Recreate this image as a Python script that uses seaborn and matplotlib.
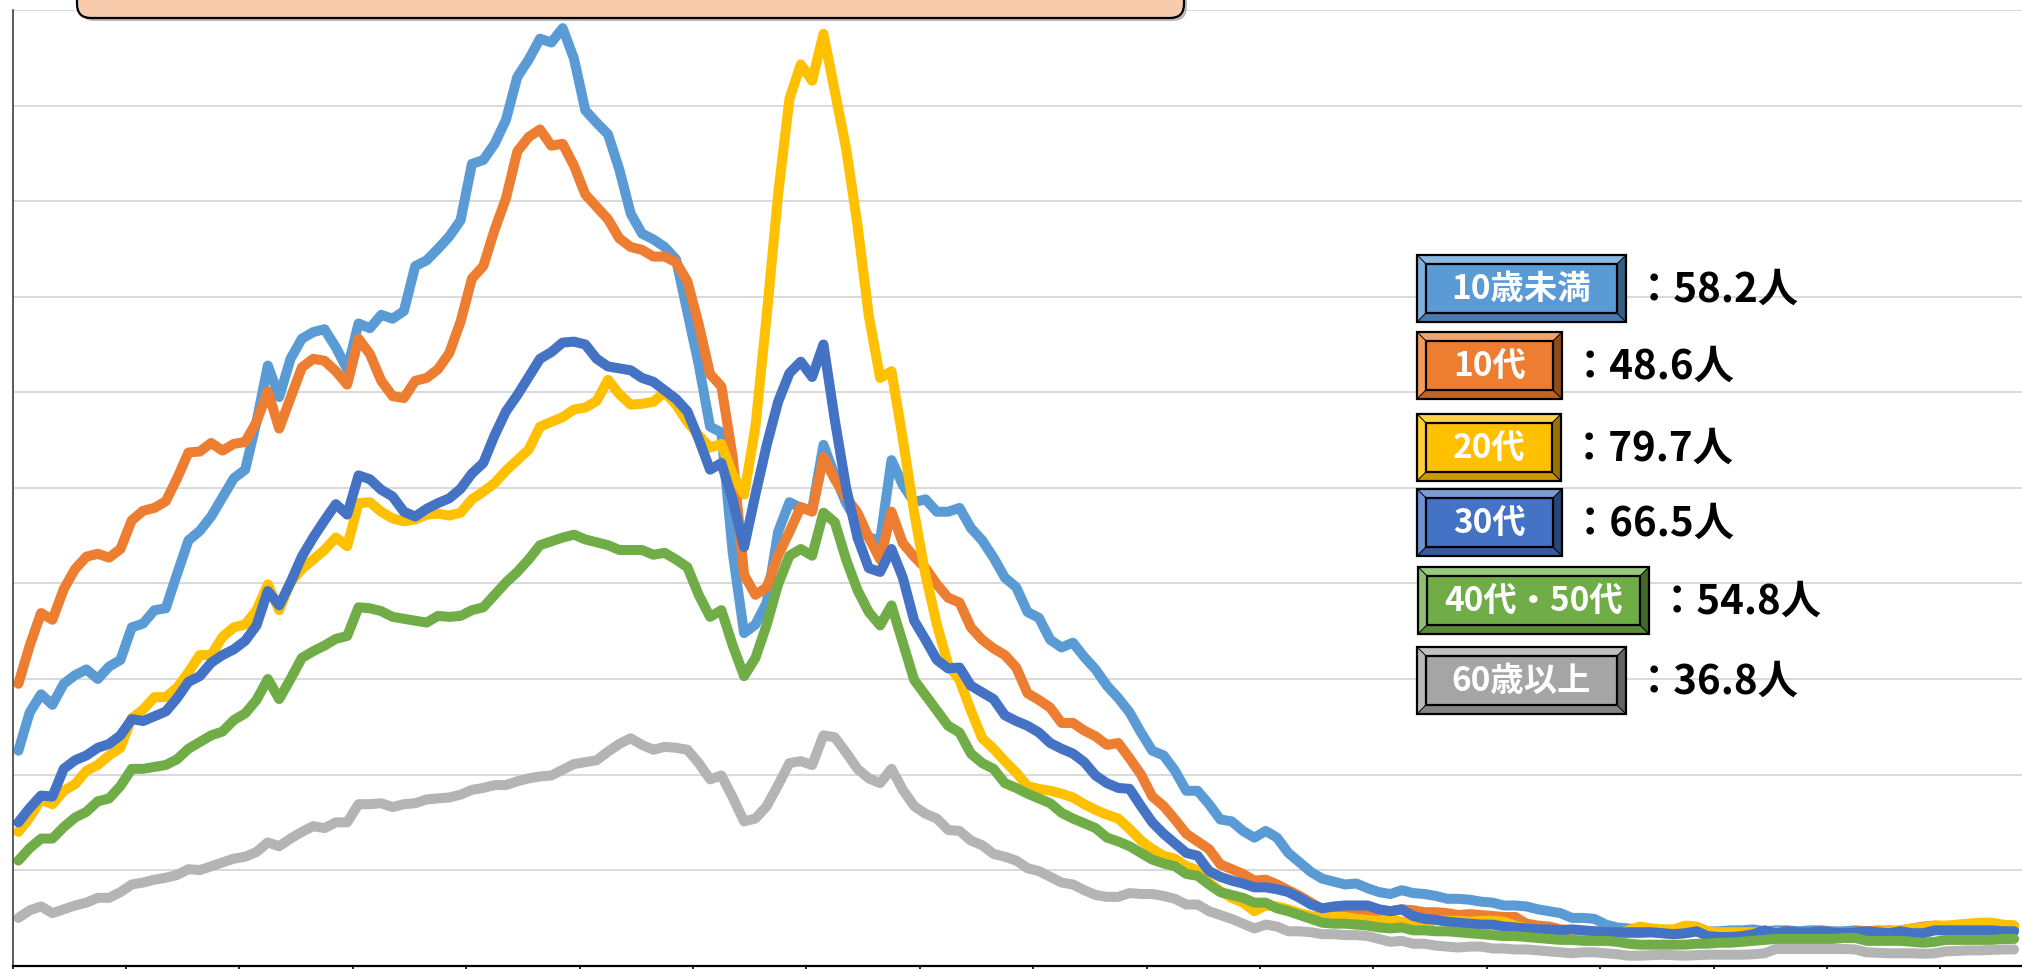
import numpy as np
import pandas as pd
import matplotlib
matplotlib.use("Agg")
import matplotlib.pyplot as plt
import matplotlib.colors as mcolors
from matplotlib.patches import Polygon, Rectangle, FancyBboxPatch
import seaborn as sns

# age groups, the values shown next to the legend boxes, colours
groups = ['10歳未満', '10代', '20代', '30代', '40代・50代', '60歳以上']
latest = ['58.2', '48.6', '79.7', '66.5', '54.8', '36.8']
line_colors = ['#5B9BD5', '#ED7D31', '#FFC000', '#4472C4', '#70AD47', '#B4B4B4']
box_colors = ['#5B9BD5', '#ED7D31', '#FFC000', '#4472C4', '#70AD47', '#A5A5A5']

# one value per period
under10 = [
    22.5, 26.5, 28.4, 27.3, 29.5, 30.4, 31.0, 30.0, 31.3, 32.0,
    35.4, 35.8, 37.2, 37.4, 41.0, 44.5, 45.5, 47.0, 49.0, 51.0,
    51.9, 56.9, 62.8, 59.5, 63.5, 65.6, 66.3, 66.6, 64.7, 62.4,
    67.2, 66.7, 68.1, 67.7, 68.5, 73.2, 73.8, 75.0, 76.3, 78.0,
    83.9, 84.3, 86.0, 88.5, 93.0, 94.8, 97.0, 96.6, 98.1, 94.9,
    89.5, 88.2, 87.0, 83.3, 78.7, 76.6, 76.0, 75.2, 73.9, 68.4,
    62.9, 56.4, 55.8, 43.2, 34.8, 35.7, 38.0, 45.4, 48.5, 47.9,
    47.7, 54.5, 51.3, 48.4, 46.4, 44.8, 44.5, 52.9, 50.3, 48.5,
    48.8, 47.5, 47.5, 47.9, 45.8, 44.5, 42.7, 40.6, 39.6, 37.0,
    36.4, 34.1, 33.3, 33.8, 32.3, 31.0, 29.3, 28.0, 26.5, 24.4,
    22.5, 22.0, 20.4, 18.3, 18.3, 16.9, 15.3, 15.1, 14.1, 13.4,
    14.1, 13.4, 11.8, 10.8, 9.8, 9.1, 8.8, 8.5, 8.6, 8.1,
    7.7, 7.5, 7.9, 7.6, 7.5, 7.3, 7.0, 7.0, 6.9, 6.7,
    6.6, 6.3, 6.3, 6.2, 5.9, 5.7, 5.5, 5.0, 5.0, 4.9,
    4.3, 4.0, 3.9, 3.8, 3.8, 3.7, 3.7, 3.8, 3.6, 3.6,
    3.6, 3.7, 3.7, 3.8, 3.6, 3.7, 3.7, 3.6, 3.7, 3.7,
    3.6, 3.6, 3.7, 3.6, 3.6, 3.7, 3.6, 3.6, 3.7, 3.8,
    3.8, 3.8, 3.8, 3.8, 3.8, 3.8, 3.8,
]
teens = [
    29.5, 33.5, 36.9, 36.2, 39.4, 41.5, 42.8, 43.1, 42.7, 43.6,
    46.6, 47.6, 47.9, 48.6, 51.0, 53.7, 53.8, 54.7, 53.9, 54.6,
    54.8, 56.9, 60.1, 56.2, 59.4, 62.6, 63.5, 63.3, 62.2, 60.8,
    65.6, 64.0, 61.2, 59.6, 59.4, 61.2, 61.5, 62.4, 64.1, 67.4,
    71.9, 73.2, 77.0, 80.3, 85.2, 86.7, 87.5, 85.8, 86.0, 83.7,
    80.7, 79.4, 78.1, 76.1, 75.2, 74.9, 74.2, 74.2, 73.6, 71.6,
    67.1, 61.9, 60.6, 53.2, 40.9, 38.8, 39.6, 42.9, 45.4, 48.0,
    47.5, 53.2, 50.9, 49.0, 47.4, 44.8, 42.5, 47.5, 44.2, 42.8,
    41.6, 39.9, 38.5, 38.0, 35.4, 34.1, 33.2, 32.5, 31.2, 28.5,
    27.8, 27.0, 25.4, 25.4, 24.6, 24.0, 23.1, 23.3, 21.7, 20.0,
    17.7, 16.7, 15.3, 13.8, 13.0, 12.2, 10.6, 10.1, 9.6, 8.9,
    9.0, 8.5, 7.9, 7.3, 6.6, 5.9, 5.7, 5.7, 5.6, 5.6,
    5.6, 5.7, 5.9, 5.8, 5.6, 5.6, 5.5, 5.3, 5.4, 5.3,
    5.2, 5.1, 5.1, 4.4, 4.2, 4.1, 3.8, 3.7, 3.6, 3.6,
    3.5, 3.4, 3.4, 3.4, 3.5, 3.4, 3.3, 3.4, 3.6, 3.3,
    3.2, 3.1, 3.2, 3.4, 3.6, 3.5, 3.6, 3.5, 3.5, 3.6,
    3.5, 3.4, 3.6, 3.6, 3.7, 3.6, 3.7, 3.9, 4.1, 4.2,
    4.1, 4.1, 4.2, 4.2, 4.2, 4.2, 4.2,
]
twenties = [
    14.0, 15.5, 17.4, 16.9, 18.3, 19.0, 20.4, 21.0, 22.0, 22.8,
    25.9, 26.8, 28.1, 28.1, 29.1, 30.7, 32.5, 32.5, 34.4, 35.4,
    35.7, 37.2, 39.9, 37.2, 40.1, 41.5, 42.5, 43.5, 44.8, 43.9,
    48.4, 48.5, 47.5, 46.8, 46.5, 46.7, 47.2, 47.3, 47.1, 47.4,
    48.8, 49.6, 50.5, 51.8, 52.9, 54.0, 56.4, 56.9, 57.4, 58.2,
    58.4, 59.1, 61.3, 59.8, 58.7, 58.8, 59.0, 60.0, 58.7, 56.9,
    55.5, 54.2, 54.6, 51.4, 49.3, 56.4, 68.1, 80.7, 90.7, 94.3,
    92.6, 97.5, 91.5, 85.5, 77.5, 68.0, 61.5, 62.2, 55.1, 47.4,
    40.9, 35.7, 31.5, 29.9, 26.7, 23.8, 22.7, 21.4, 20.2, 18.8,
    18.5, 18.3, 18.0, 17.6, 16.9, 16.3, 15.8, 15.4, 14.3, 13.1,
    12.2, 11.5, 11.2, 10.4, 10.0, 8.7, 7.8, 7.1, 6.6, 5.7,
    6.3, 6.2, 5.9, 5.5, 5.2, 5.1, 5.1, 5.1, 4.9, 4.8,
    4.7, 4.9, 4.6, 4.4, 4.2, 4.8, 4.7, 4.7, 4.6, 4.7,
    4.7, 4.6, 4.2, 3.9, 3.7, 3.6, 3.3, 3.1, 3.0, 3.0,
    3.1, 3.3, 3.7, 4.1, 3.9, 3.8, 3.8, 4.2, 4.1, 3.6,
    3.5, 3.5, 3.5, 3.5, 3.4, 3.5, 3.5, 3.5, 3.5, 3.5,
    3.5, 3.4, 3.5, 3.5, 3.6, 3.6, 3.7, 3.9, 4.0, 4.2,
    4.2, 4.3, 4.4, 4.5, 4.5, 4.3, 4.2,
]
thirties = [
    15.0, 16.5, 17.8, 17.7, 20.6, 21.5, 22.0, 22.8, 23.2, 24.1,
    25.8, 25.6, 26.1, 26.6, 28.0, 29.7, 30.3, 31.7, 32.5, 33.1,
    34.0, 35.6, 39.2, 37.7, 40.1, 42.8, 44.8, 46.6, 48.3, 47.2,
    51.3, 50.9, 49.8, 49.1, 47.5, 47.0, 47.8, 48.4, 48.9, 49.9,
    51.5, 52.6, 55.5, 58.0, 59.7, 61.6, 63.5, 64.2, 65.2, 65.3,
    65.0, 63.5, 62.7, 62.5, 62.3, 61.5, 61.1, 60.2, 59.3, 58.0,
    55.1, 51.9, 52.6, 48.7, 43.8, 49.3, 54.5, 59.0, 62.0, 63.2,
    61.6, 65.0, 57.1, 50.0, 44.8, 41.6, 41.2, 43.6, 40.6, 36.1,
    34.1, 32.0, 31.1, 31.2, 29.3, 28.6, 27.9, 26.2, 25.6, 25.1,
    24.4, 23.3, 22.7, 22.2, 21.3, 19.9, 19.1, 18.6, 18.5, 16.7,
    15.0, 13.8, 12.8, 11.8, 11.5, 9.9, 9.3, 8.9, 8.6, 8.2,
    8.2, 8.0, 7.7, 7.1, 6.4, 6.0, 6.2, 6.3, 6.3, 6.3,
    5.9, 5.7, 5.9, 5.2, 4.9, 4.8, 4.6, 4.5, 4.4, 4.3,
    4.3, 4.1, 4.0, 3.9, 3.8, 3.8, 3.7, 3.8, 3.7, 3.6,
    3.5, 3.5, 3.5, 3.5, 3.5, 3.4, 3.3, 3.4, 3.6, 3.1,
    3.0, 3.0, 3.1, 3.3, 3.7, 3.4, 3.6, 3.5, 3.5, 3.6,
    3.5, 3.4, 3.5, 3.6, 3.5, 3.4, 3.6, 3.4, 3.4, 3.7,
    3.7, 3.7, 3.7, 3.7, 3.7, 3.6, 3.6,
]
forties_fifties = [
    11.0, 12.3, 13.3, 13.3, 14.5, 15.5, 16.1, 17.2, 17.5, 18.8,
    20.6, 20.6, 20.8, 21.0, 21.6, 22.7, 23.4, 24.1, 24.5, 25.7,
    26.4, 27.8, 30.0, 27.9, 30.0, 32.2, 32.9, 33.5, 34.2, 34.5,
    37.5, 37.4, 37.1, 36.5, 36.3, 36.1, 35.9, 36.6, 36.5, 36.6,
    37.2, 37.5, 38.8, 40.1, 41.2, 42.5, 44.0, 44.4, 44.8, 45.1,
    44.6, 44.3, 44.0, 43.5, 43.5, 43.5, 43.0, 43.2, 42.5, 41.7,
    38.8, 36.5, 37.2, 33.5, 30.3, 32.2, 35.7, 39.9, 42.9, 43.6,
    42.9, 47.4, 46.4, 42.5, 39.3, 37.0, 35.6, 37.7, 33.8, 29.9,
    28.3, 26.7, 25.1, 24.4, 22.2, 21.2, 20.6, 19.1, 18.6, 18.0,
    17.5, 17.0, 16.0, 15.4, 14.9, 14.4, 13.4, 13.0, 12.5, 11.8,
    11.1, 10.7, 10.4, 9.6, 9.4, 8.5, 7.7, 7.4, 7.1, 6.6,
    6.6, 6.0, 5.7, 5.3, 4.9, 4.5, 4.4, 4.4, 4.3, 4.2,
    4.0, 3.9, 4.0, 3.7, 3.7, 3.6, 3.6, 3.5, 3.4, 3.3,
    3.2, 3.1, 3.1, 3.0, 2.9, 2.8, 2.7, 2.7, 2.6, 2.6,
    2.6, 2.5, 2.3, 2.2, 2.2, 2.2, 2.2, 2.2, 2.3, 2.3,
    2.4, 2.4, 2.5, 2.6, 2.7, 2.8, 2.8, 2.8, 2.8, 2.8,
    2.8, 2.9, 2.9, 2.6, 2.6, 2.6, 2.6, 2.5, 2.4, 2.5,
    2.7, 2.7, 2.7, 2.7, 2.7, 2.8, 2.8,
]
over60 = [
    5.0, 5.8, 6.2, 5.5, 5.9, 6.3, 6.6, 7.1, 7.1, 7.7,
    8.5, 8.7, 9.0, 9.2, 9.5, 10.1, 10.0, 10.4, 10.8, 11.2,
    11.4, 11.9, 12.9, 12.5, 13.3, 14.0, 14.6, 14.4, 15.0, 15.0,
    16.9, 16.9, 17.0, 16.6, 16.9, 17.0, 17.4, 17.5, 17.6, 17.9,
    18.4, 18.6, 18.9, 18.9, 19.3, 19.6, 19.8, 19.9, 20.5, 21.1,
    21.3, 21.5, 22.4, 23.2, 23.8, 23.1, 22.6, 22.9, 22.8, 22.6,
    21.2, 19.5, 19.9, 17.6, 15.1, 15.4, 16.7, 18.9, 21.2, 21.4,
    21.0, 24.1, 23.9, 22.3, 20.6, 19.6, 19.1, 20.6, 18.4, 16.7,
    15.9, 15.4, 14.2, 14.1, 13.1, 12.6, 11.7, 11.4, 11.0, 10.2,
    9.9, 9.3, 8.7, 8.5, 7.9, 7.4, 7.2, 7.2, 7.6, 7.5,
    7.5, 7.3, 7.0, 6.4, 6.4, 5.7, 5.3, 4.9, 4.4, 3.9,
    4.3, 4.1, 3.6, 3.6, 3.5, 3.3, 3.3, 3.2, 3.2, 3.1,
    2.8, 2.5, 2.6, 2.3, 2.3, 2.1, 2.0, 1.9, 2.0, 2.0,
    1.8, 1.8, 1.7, 1.7, 1.6, 1.5, 1.4, 1.3, 1.4, 1.4,
    1.3, 1.2, 1.05, 1.05, 1.1, 1.15, 1.1, 1.05, 1.1, 1.15,
    1.15, 1.15, 1.15, 1.2, 1.3, 1.75, 1.75, 1.75, 1.75, 1.75,
    1.75, 1.75, 1.7, 1.4, 1.35, 1.3, 1.3, 1.3, 1.25, 1.3,
    1.5, 1.55, 1.6, 1.6, 1.65, 1.7, 1.7,
]

series = [under10, teens, twenties, thirties, forties_fifties, over60]
frames = []
for name, vals in zip(groups, series):
    frames.append(pd.DataFrame({'period': np.arange(len(vals)), 'value': vals, 'group': name}))
df = pd.concat(frames, ignore_index=True)
# Excel-style category axis: points sit between the tick marks
df['pos'] = df['period'] + 0.5

sns.set_theme(style='white')
plt.rcParams['font.family'] = ['Noto Sans CJK JP', 'DejaVu Sans']

W, H = 2022, 969
fig = plt.figure(figsize=(W / 100, H / 100), dpi=100)
ax = fig.add_axes([12.7 / W, 3.3 / H, 1 - 12.7 / W, (959 - 3.3) / H])

sns.lineplot(data=df, x='pos', y='value', hue='group', hue_order=groups,
             palette=line_colors, estimator=None, sort=False,
             legend=False, ax=ax)
# thick Excel-like strokes
for ln in ax.lines:
    ln.set_linewidth(7.2)
    ln.set_solid_joinstyle('round')
    ln.set_solid_capstyle('round')

ax.set_xlim(0, 177.2)
ax.set_ylim(0, 100)
ax.set_yticks(np.arange(0, 101, 10))
ax.set_yticklabels([])
ax.tick_params(axis='y', length=0)
ax.set_xticks(np.arange(0, 171, 10))
ax.set_xticklabels([])
ax.tick_params(axis='x', direction='out', length=6, width=1.2, color='black', bottom=True)
ax.grid(axis='y', color='#D9D9D9', linewidth=1.4)
ax.set_axisbelow(True)
ax.set_xlabel('')
ax.set_ylabel('')
for s in ['top', 'right']:
    ax.spines[s].set_visible(False)
ax.spines['left'].set_color('#404040')
ax.spines['left'].set_linewidth(1.2)
ax.spines['bottom'].set_color('black')
ax.spines['bottom'].set_linewidth(1.6)

# overlay in pixel coordinates (y downwards) for the title box and the labels
ov = fig.add_axes([0, 0, 1, 1])
ov.set_xlim(0, W)
ov.set_ylim(H, 0)
ov.axis('off')
ov.patch.set_alpha(0)

ov.add_patch(FancyBboxPatch((80, -40), 1107, 61, boxstyle='round,pad=0,rounding_size=14',
                            fc='#8C8C8C', ec='none', alpha=0.6))
ov.add_patch(FancyBboxPatch((77, -40), 1107, 58, boxstyle='round,pad=0,rounding_size=14',
                            fc='#F8CBAD', ec='black', lw=1.6))


def bevel_box(axis, x0, y0, w, h, color, d=9):
    x1, y1 = x0 + w, y0 + h
    base = np.array(mcolors.to_rgb(color))
    top = base + (1 - base) * 0.3
    left = base + (1 - base) * 0.22
    bottom = base * 0.8
    right = base * 0.6
    faces = [
        ([(x0, y0), (x1, y0), (x1 - d, y0 + d), (x0 + d, y0 + d)], top),
        ([(x0, y0), (x0 + d, y0 + d), (x0 + d, y1 - d), (x0, y1)], left),
        ([(x0, y1), (x1, y1), (x1 - d, y1 - d), (x0 + d, y1 - d)], bottom),
        ([(x1, y0), (x1, y1), (x1 - d, y1 - d), (x1 - d, y0 + d)], right),
    ]
    for pts, c in faces:
        axis.add_patch(Polygon(pts, closed=True, fc=c, ec='black', lw=0.6))
    axis.add_patch(Rectangle((x0 + d, y0 + d), w - 2 * d, h - 2 * d, fc=color, ec='black', lw=1.6))
    axis.add_patch(Rectangle((x0, y0), w, h, fc='none', ec='black', lw=1.6))


box_left = [1417, 1417, 1417, 1417, 1418, 1417]
box_width = [209, 145, 144, 145, 231, 209]
box_top = [255, 332, 414, 489, 567, 647]
box_h = 67

for name, val, col, bx, bw, by in zip(groups, latest, box_colors, box_left, box_width, box_top):
    bevel_box(ov, bx, by, bw, box_h, col)
    ov.text(bx + bw / 2, by + box_h / 2 + 1, name, color='white', fontsize=24,
            fontweight='bold', ha='center', va='center')
    ov.text(bx + bw + 8, by + box_h / 2 + 2, f'：{val}人', color='black', fontsize=29,
            fontweight='bold', ha='left', va='center')

fig.savefig('out.png', dpi=100)
